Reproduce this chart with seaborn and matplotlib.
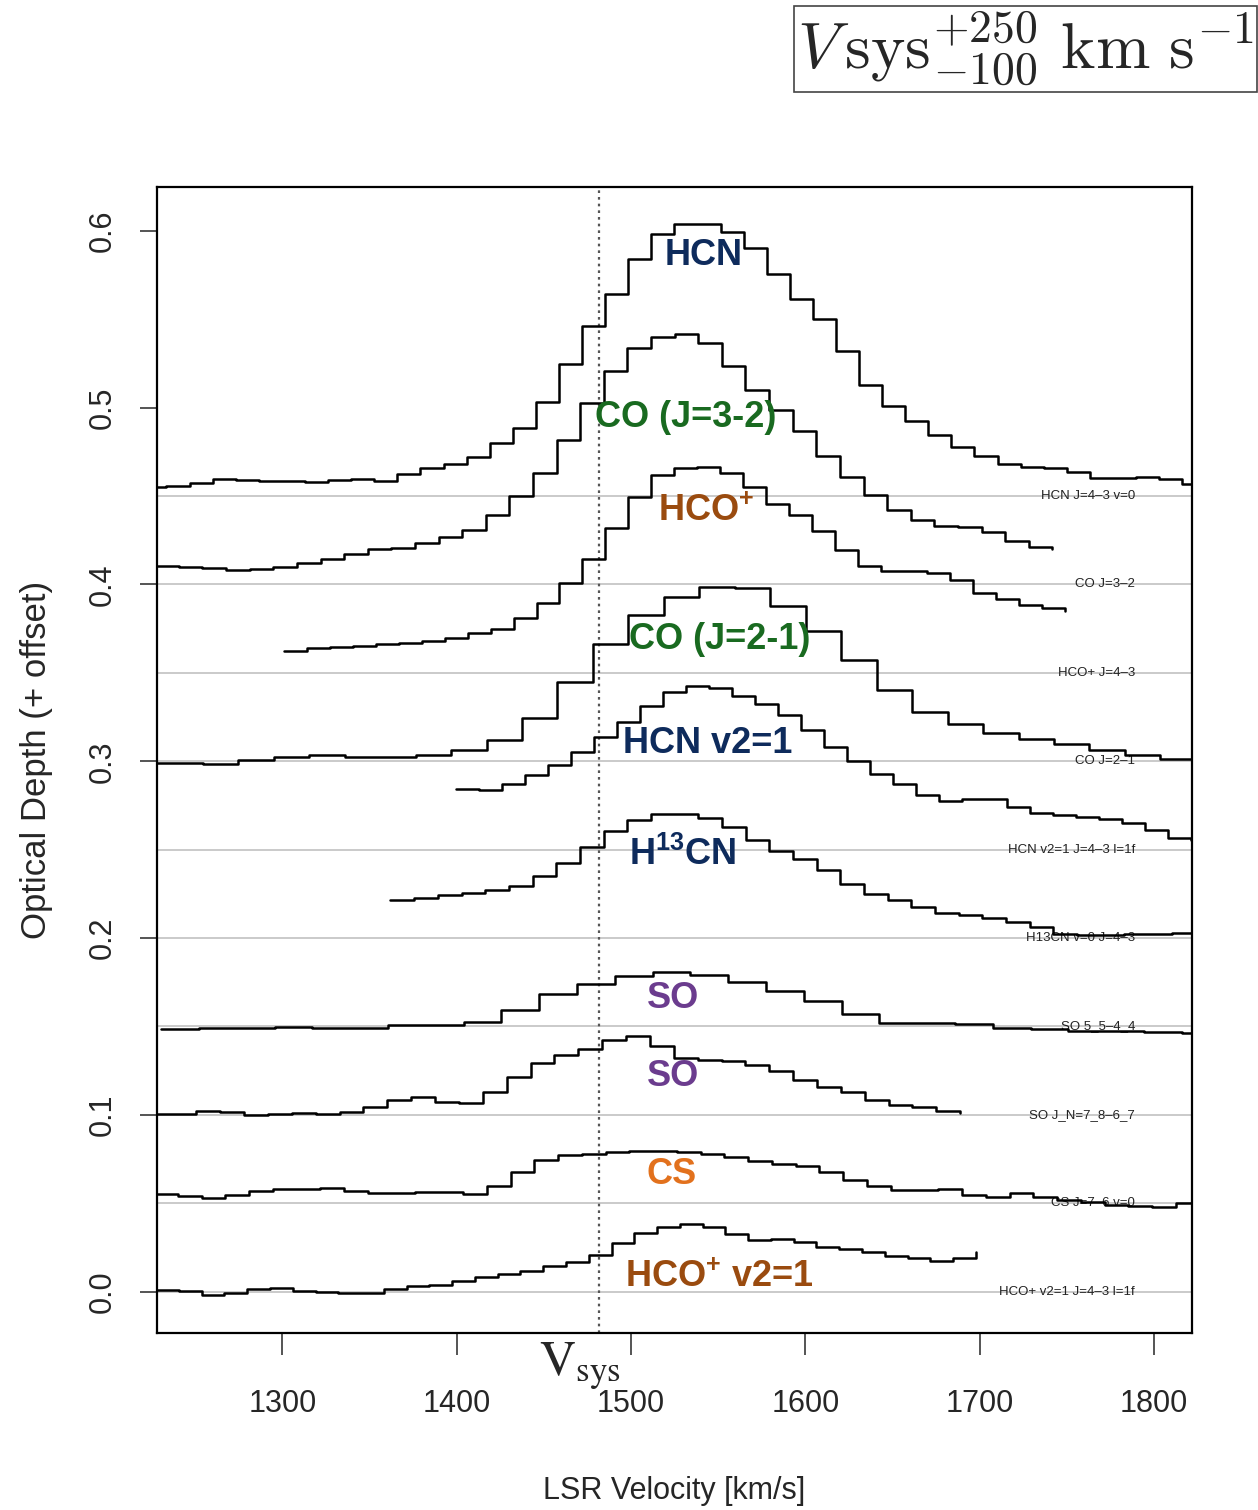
import numpy as np
import pandas as pd
import matplotlib
matplotlib.use("Agg")
import matplotlib.pyplot as plt
import seaborn as sns

sns.set_style("white")
SANS = ["Liberation Sans", "DejaVu Sans"]
plt.rcParams["font.family"] = SANS
plt.rcParams["mathtext.fontset"] = "custom"
plt.rcParams["mathtext.rm"] = "Liberation Sans"
plt.rcParams["mathtext.bf"] = "Liberation Sans:bold"

# --- spectra: first channel velocity [km/s], channel width [km/s], optical depth per channel ---
hcn_v0, hcn_dv = 1220.3, 13.24
hcn_tau = [0.0053, 0.0058, 0.0075, 0.0096, 0.0091, 0.0085, 0.0085, 0.0081, 0.0091, 0.0095,
           0.0087, 0.0123, 0.0160, 0.0179, 0.0221, 0.0300, 0.0387, 0.0532, 0.0747, 0.0962,
           0.1142, 0.1340, 0.1485, 0.1536, 0.1540, 0.1496, 0.1405, 0.1257, 0.1115, 0.1000,
           0.0821, 0.0628, 0.0511, 0.0426, 0.0344, 0.0277, 0.0226, 0.0179, 0.0166, 0.0160,
           0.0138, 0.0104, 0.0100, 0.0106, 0.0095, 0.0066, 0.0066]

co32_v0, co32_dv = 1227.1, 13.54
co32_tau = [0.0104, 0.0096, 0.0091, 0.0081, 0.0085, 0.0096, 0.0119, 0.0142, 0.0175, 0.0198,
            0.0207, 0.0235, 0.0269, 0.0307, 0.0392, 0.0500, 0.0632, 0.0817, 0.1025, 0.1207,
            0.1336, 0.1401, 0.1417, 0.1364, 0.1237, 0.1100, 0.0987, 0.0868, 0.0728, 0.0609,
            0.0504, 0.0421, 0.0364, 0.0330, 0.0323, 0.0294, 0.0245, 0.0211, 0.0200]

hcop_v0, hcop_dv = 1300.9, 13.17
hcop_tau = [0.0125, 0.0138, 0.0147, 0.0153, 0.0161, 0.0170, 0.0179, 0.0195, 0.0223, 0.0247,
            0.0308, 0.0393, 0.0506, 0.0644, 0.0821, 0.0993, 0.1119, 0.1160, 0.1166, 0.1132,
            0.1049, 0.0955, 0.0893, 0.0802, 0.0695, 0.0606, 0.0577, 0.0574, 0.0566, 0.0525,
            0.0453, 0.0417, 0.0383, 0.0365, 0.0351]

co21_v0, co21_dv = 1213.7, 20.34
co21_tau = [-0.0007, -0.0007, -0.0013, 0.0006, 0.0024, 0.0034, 0.0024, 0.0024, 0.0034, 0.0062,
            0.0119, 0.0247, 0.0449, 0.0662, 0.0830, 0.0927, 0.0987, 0.0981, 0.0877, 0.0736,
            0.0572, 0.0402, 0.0279, 0.0208, 0.0160, 0.0128, 0.0095, 0.0062, 0.0034, 0.0015,
            0.0005]

hcnv2_v0, hcnv2_dv = 1399.8, 13.17
hcnv2_tau = [0.0345, 0.0336, 0.0370, 0.0421, 0.0477, 0.0552, 0.0637, 0.0722, 0.0814, 0.0890,
             0.0924, 0.0917, 0.0868, 0.0822, 0.0760, 0.0675, 0.0581, 0.0502, 0.0430, 0.0371,
             0.0310, 0.0275, 0.0285, 0.0285, 0.0241, 0.0209, 0.0198, 0.0185, 0.0176, 0.0153,
             0.0109, 0.0068, 0.0053]

h13cn_v0, h13cn_dv = 1362.0, 13.58
h13cn_tau = [0.0217, 0.0226, 0.0242, 0.0255, 0.0270, 0.0293, 0.0349, 0.0427, 0.0515, 0.0604,
             0.0666, 0.0704, 0.0704, 0.0679, 0.0628, 0.0557, 0.0492, 0.0449, 0.0387, 0.0308,
             0.0251, 0.0213, 0.0175, 0.0144, 0.0128, 0.0115, 0.0091, 0.0062, 0.0021, 0.0015,
             0.0015, 0.0021, 0.0025, 0.0031, 0.0031]

so55_v0, so55_dv = 1230.5, 21.68
so55_tau = [-0.0013, -0.0011, -0.0010, -0.0004, -0.0010, -0.0010, 0.0006, 0.0010, 0.0024, 0.0095,
            0.0181, 0.0238, 0.0283, 0.0306, 0.0289, 0.0251, 0.0200, 0.0143, 0.0072, 0.0019,
            0.0017, 0.0015, -0.0007, -0.0013, -0.0023, -0.0028, -0.0032, -0.0038, -0.0038]

so78_v0, so78_dv = 1223.3, 13.69
so78_tau = [0.0006, 0.0006, 0.0024, 0.0019, 0.0002, 0.0006, 0.0011, 0.0006, 0.0019, 0.0043,
            0.0087, 0.0100, 0.0071, 0.0068, 0.0128, 0.0217, 0.0294, 0.0340, 0.0374, 0.0421,
            0.0449, 0.0388, 0.0320, 0.0313, 0.0307, 0.0283, 0.0251, 0.0198, 0.0160, 0.0128,
            0.0085, 0.0058, 0.0047, 0.0023, 0.0013]

cs_v0, cs_dv = 1226.4, 13.63
cs_tau = [0.0053, 0.0044, 0.0031, 0.0048, 0.0068, 0.0082, 0.0082, 0.0087, 0.0072, 0.0057,
          0.0061, 0.0066, 0.0062, 0.0053, 0.0095, 0.0175, 0.0246, 0.0274, 0.0280, 0.0289,
          0.0293, 0.0294, 0.0289, 0.0276, 0.0264, 0.0242, 0.0223, 0.0213, 0.0175, 0.0132,
          0.0100, 0.0076, 0.0078, 0.0079, 0.0048, 0.0034, 0.0057, 0.0038, 0.0019, 0.0006,
          -0.0007, -0.0013, -0.0019, 0.0000, 0.0000]

hcopv2_v0, hcopv2_dv = 1227.6, 13.06
hcopv2_tau = [0.0010, 0.0006, -0.0017, -0.0010, 0.0015, 0.0021, 0.0004, 0.0000, -0.0006, -0.0007,
              0.0015, 0.0034, 0.0040, 0.0062, 0.0085, 0.0100, 0.0115, 0.0143, 0.0170, 0.0209,
              0.0276, 0.0330, 0.0368, 0.0383, 0.0368, 0.0327, 0.0293, 0.0298, 0.0279, 0.0251,
              0.0242, 0.0222, 0.0204, 0.0188, 0.0175, 0.0188, 0.0222]

line_names = ["HCN J=4–3 v=0", "CO J=3–2", "HCO+ J=4–3", "CO J=2–1", "HCN v2=1 J=4–3 l=1f",
              "H13CN v=0 J=4–3", "SO 5_5–4_4", "SO J_N=7_8–6_7", "CS J=7–6 v=0",
              "HCO+ v2=1 J=4–3 l=1f"]
line_offsets = [0.45, 0.40, 0.35, 0.30, 0.25, 0.20, 0.15, 0.10, 0.05, 0.00]
spectra = [(hcn_v0, hcn_dv, hcn_tau), (co32_v0, co32_dv, co32_tau), (hcop_v0, hcop_dv, hcop_tau),
           (co21_v0, co21_dv, co21_tau), (hcnv2_v0, hcnv2_dv, hcnv2_tau),
           (h13cn_v0, h13cn_dv, h13cn_tau), (so55_v0, so55_dv, so55_tau),
           (so78_v0, so78_dv, so78_tau), (cs_v0, cs_dv, cs_tau), (hcopv2_v0, hcopv2_dv, hcopv2_tau)]

# coloured molecule names
mol_labels = ["HCN", "CO (J=3-2)", r"HCO$^{\mathbf{+}}$", "CO (J=2-1)", "HCN v2=1",
              r"H$^{\mathbf{13}}$CN", "SO", "SO", "CS", r"HCO$^{\mathbf{+}}$ v2=1"]
mol_colors = ["#0e2b5c", "#196a20", "#9a4b0f", "#196a20", "#0e2b5c",
              "#0e2b5c", "#6b3c8e", "#6b3c8e", "#e2711d", "#9a4b0f"]
mol_vel = [1541.7, 1531.4, 1542.9, 1550.9, 1544.0, 1529.7, 1524.0, 1524.0, 1523.4, 1550.9]
mol_y = [0.5858, 0.4942, 0.4410, 0.3686, 0.3098, 0.2470, 0.1656, 0.1215, 0.0661, 0.0083]

v_sys = 1481.5
x_ticks = [1300, 1400, 1500, 1600, 1700, 1800]
y_ticks = [0.0, 0.1, 0.2, 0.3, 0.4, 0.5, 0.6]

# long-form table
frames = []
for name, off, (v0, dv, tau) in zip(line_names, line_offsets, spectra):
    tau = np.asarray(tau)
    frames.append(pd.DataFrame({"velocity": v0 + dv * np.arange(len(tau)),
                                "depth": tau + off, "line": name}))
df = pd.concat(frames, ignore_index=True)

fig = plt.figure(figsize=(12.58, 15.10), dpi=100)
ax = fig.add_axes([157 / 1258, 1 - 1333 / 1510, 1035 / 1258, 1146 / 1510])

for off in line_offsets:
    ax.axhline(off, color="#c6c6c6", lw=1.3, zorder=1)
ax.axvline(v_sys, color="#555555", ls=(0, (1.2, 1.8)), lw=1.6, zorder=1)

sns.lineplot(data=df, x="velocity", y="depth", units="line", estimator=None,
             color="black", lw=1.8, drawstyle="steps-post", legend=False, ax=ax, zorder=3)

for name, off in zip(line_names, line_offsets):
    ax.text(1789.0, off, name, ha="right", va="center", fontsize=9.5, color="#222222",
            zorder=2)

for txt, col, xv, yv in zip(mol_labels, mol_colors, mol_vel, mol_y):
    ax.text(xv, yv, txt, ha="center", va="center", fontsize=26, fontweight="bold",
            color=col, zorder=4)

ax.set_xlim(1228.1, 1821.7)
ax.set_ylim(-0.02336, 0.6248)
ax.set_xticks(x_ticks)
ax.set_xticklabels([str(t) for t in x_ticks], fontsize=22)
ax.set_yticks(y_ticks)
ax.set_yticklabels([f"{t:.1f}" for t in y_ticks], fontsize=22, rotation=90, va="center")
ax.tick_params(axis="x", length=16, width=1.1, pad=24, direction="out", bottom=True)
ax.tick_params(axis="y", length=12, width=1.1, pad=16, direction="out", left=True)
for sp in ax.spines.values():
    sp.set_linewidth(1.6)
    sp.set_color("black")

ax.set_xlabel("LSR Velocity [km/s]", fontsize=22)
ax.xaxis.set_label_coords(0.5, -0.125)
ax.set_ylabel("Optical Depth (+ offset)", fontsize=25)
ax.yaxis.set_label_coords(-0.100, 0.5)

ax.text(1471, -0.0272, r"$\mathrm{V}_{\mathrm{sys}}$", ha="center", va="top", fontsize=36,
        math_fontfamily="stix", clip_on=False)

fig.text(1254 / 1258, 1 - 9 / 1510, r"$V\,\mathrm{sys}^{+250}_{-100}\ \mathrm{km\ s}^{-1}$",
         ha="right", va="top", fontsize=47, math_fontfamily="cm",
         bbox=dict(boxstyle="square,pad=0.05", fc="white", ec="#444444", lw=1.2))

fig.savefig("out.png", dpi=100)
